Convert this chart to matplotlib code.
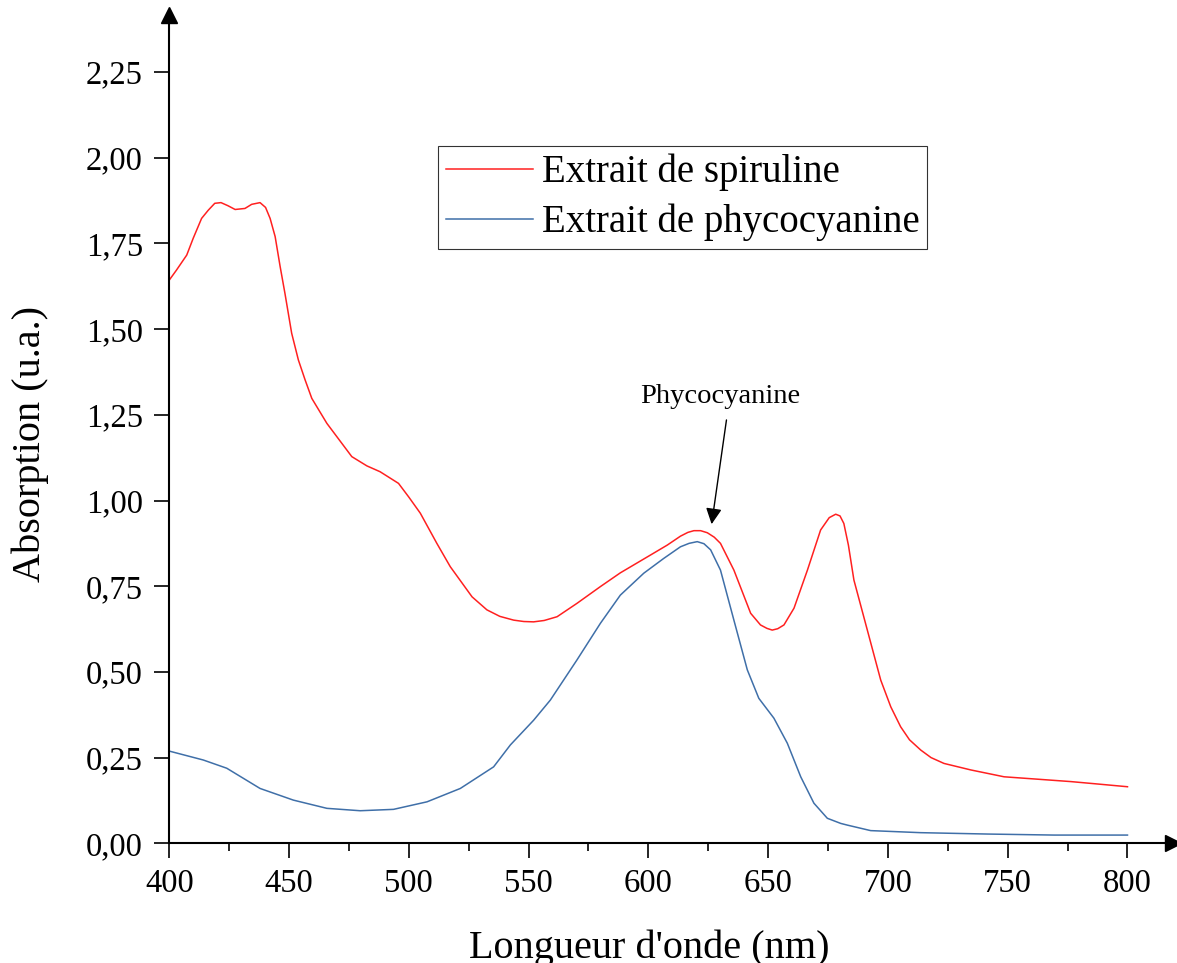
import numpy as np
import matplotlib
matplotlib.use("Agg")
import matplotlib.pyplot as plt
from matplotlib.ticker import MultipleLocator, FuncFormatter

plt.rcParams['font.family'] = ['Liberation Serif', 'DejaVu Serif']

# spectre de l'extrait de spiruline
nm_spiruline = [400, 403, 407.3, 410, 413.5, 416.3, 419, 421.6, 424.5, 427.5, 431.6, 434.4, 437.9,
                440.2, 442.1, 444.2, 446.3, 448.3, 451.1, 453.9, 456.7, 459.5, 465.8, 476.2, 482.5,
                488, 495.7, 500, 504.8, 511.7, 517.3, 526.4, 532.6, 538, 543.8, 548, 552.1, 556.5,
                561.9, 570.2, 580, 588.3, 600.9, 607.9, 613.4, 616.5, 619, 621.8, 624.6, 627.5,
                630.1, 635.7, 642.7, 646.8, 649.5, 651.7, 654, 656.6, 660.8, 666.4, 671.9, 675.5,
                678.2, 680, 681.6, 683.5, 685.8, 691.4, 697, 701.2, 705.3, 709, 713.7, 718,
                723.4, 734.6, 748.5, 762.5, 776.4, 787.5, 800]
abs_spiruline = [1.643, 1.672, 1.716, 1.765, 1.823, 1.847, 1.867, 1.869, 1.860, 1.849, 1.852, 1.864, 1.869,
                 1.855, 1.823, 1.770, 1.682, 1.604, 1.488, 1.410, 1.352, 1.298, 1.225, 1.128, 1.101,
                 1.084, 1.050, 1.010, 0.963, 0.875, 0.807, 0.719, 0.681, 0.662, 0.651, 0.647, 0.646, 0.650,
                 0.661, 0.700, 0.749, 0.789, 0.841, 0.870, 0.896, 0.907, 0.912, 0.912, 0.906, 0.893,
                 0.875, 0.797, 0.671, 0.637, 0.627, 0.622, 0.626, 0.637, 0.686, 0.797, 0.914, 0.950,
                 0.960, 0.955, 0.933, 0.870, 0.768, 0.622, 0.476, 0.398, 0.340, 0.302, 0.272, 0.250,
                 0.233, 0.214, 0.194, 0.187, 0.180, 0.173, 0.165]

# spectre de l'extrait de phycocyanine
nm_phyco = [400, 414.2, 424, 437.9, 451.8, 465.8, 479.7, 493.6, 507.6, 521.5, 535.4, 542.4,
            552.1, 559.1, 570.2, 580, 588.3, 598.1, 606.4, 613.4, 617, 620.4, 623.2, 626, 630.1,
            635.7, 641.3, 646.1, 652.4, 658, 663.6, 669.1, 674.7, 680.3, 683.1, 692.8, 713.7,
            741.6, 769.4, 800]
abs_phyco = [0.269, 0.243, 0.219, 0.160, 0.126, 0.102, 0.095, 0.099, 0.121, 0.160, 0.223, 0.287,
             0.359, 0.418, 0.535, 0.642, 0.724, 0.788, 0.831, 0.865, 0.875, 0.880, 0.874, 0.856,
             0.797, 0.651, 0.506, 0.423, 0.365, 0.292, 0.194, 0.117, 0.073, 0.058, 0.053, 0.037,
             0.031, 0.027, 0.024, 0.024]

labels = ["Extrait de spiruline", "Extrait de phycocyanine"]
colors = ["#ff2020", "#3f6fa8"]

fig = plt.figure(figsize=(11.77, 9.63), dpi=100)
ax = fig.add_axes([0.1438, 0.1243, 0.8528, 0.860])

ax.plot(nm_spiruline, abs_spiruline, color=colors[0], lw=1.1, label=labels[0])
ax.plot(nm_phyco, abs_phyco, color=colors[1], lw=1.1, label=labels[1])

ax.set_xlim(400, 819)
ax.set_ylim(0, 2.416)

for s in ["top", "right"]:
    ax.spines[s].set_visible(False)
for s in ["left", "bottom"]:
    ax.spines[s].set_linewidth(1.5)
# fleches au bout des axes
ax.plot(1, 0, ">k", ms=11, transform=ax.transAxes, clip_on=False)
ax.plot(0, 1, "^k", ms=11, transform=ax.transAxes, clip_on=False)

ax.xaxis.set_minor_locator(MultipleLocator(25))
ax.set_xticks([400, 450, 500, 550, 600, 650, 700, 750, 800])
ax.set_yticks(np.arange(0, 2.26, 0.25))
ax.yaxis.set_major_formatter(FuncFormatter(lambda v, p: f"{v:.2f}".replace(".", ",")))
ax.tick_params(which="major", direction="out", length=11, width=1.2, labelsize=23.5)
ax.tick_params(axis="x", which="major", pad=7)
ax.tick_params(axis="y", which="major", pad=8)
ax.tick_params(which="minor", direction="out", length=5.5, width=1.2)

fig.text(649 / 1177, 5 / 963, "Longueur d'onde (nm)", fontsize=29, ha="center", va="baseline")
fig.text(30 / 1177, 1 - 444 / 963, "Absorption (u.a.)", fontsize=29, rotation=90,
         ha="center", va="center")

ax.annotate("", xy=(626.4, 0.931), xytext=(632.6, 1.235),
            arrowprops=dict(arrowstyle="-|>", color="black", lw=1, mutation_scale=24,
                            shrinkA=0, shrinkB=0))
ax.text(630.1, 1.302, "Phycocyanine", fontsize=20.5, ha="center", va="center")

leg = ax.legend(loc="upper left", bbox_to_anchor=(438 / 1177, 1 - 146 / 963),
                bbox_transform=fig.transFigure, fontsize=28, frameon=True, fancybox=False,
                handlelength=2.25, handletextpad=0.22, borderpad=0.2, labelspacing=0.32,
                borderaxespad=0)
leg.get_frame().set_edgecolor("black")
leg.get_frame().set_linewidth(0.8)

fig.savefig("out.png", dpi=100)
